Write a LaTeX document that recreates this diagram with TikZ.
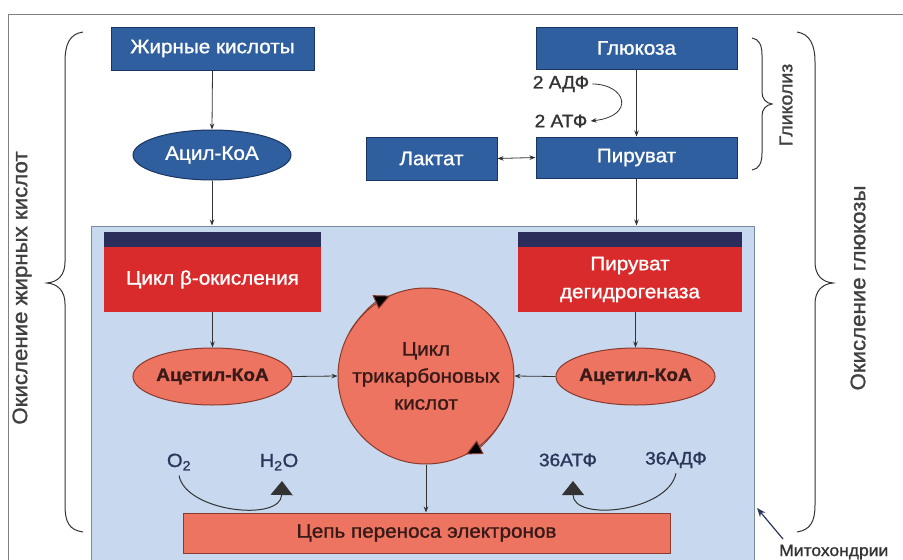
\documentclass[tikz,border=0pt]{standalone}
\usepackage{fontspec}
\setmainfont{Liberation Sans}[FakeStretch=1.06, RawFeature={embolden=1.2}]
\usetikzlibrary{shapes.geometric,arrows.meta}
\definecolor{boxblue}{HTML}{2F5F9E}
\definecolor{boxborder}{HTML}{1B3563}
\definecolor{mitoblue}{HTML}{C8D8EE}
\definecolor{mitoborder}{HTML}{7A8AA0}
\definecolor{redfill}{HTML}{D92B2B}
\definecolor{bandnavy}{HTML}{2A2D5A}
\definecolor{salmon}{HTML}{EC7461}
\definecolor{salborder}{HTML}{8B3A2E}
\definecolor{darktext}{HTML}{3A1A18}
\definecolor{navytext}{HTML}{2B3559}
\definecolor{linegray}{HTML}{333333}
\begin{document}
\begin{tikzpicture}[x=1pt,y=-1pt,
  bluebox/.style={draw=boxborder, line width=1pt, fill=boxblue, text=white, inner sep=0pt, font=\fontsize{19.5}{22}\selectfont},
  blueell/.style={ellipse, draw=boxborder, line width=1pt, fill=boxblue, text=white, inner sep=0pt, font=\fontsize{19.5}{22}\selectfont},
  redbox/.style={fill=redfill, text=white, inner sep=0pt, align=center, font=\fontsize{19.5}{28}\selectfont},
  bandbox/.style={fill=bandnavy, inner sep=0pt},
  salell/.style={ellipse, draw=salborder, line width=1pt, fill=salmon, text=darktext, inner sep=0pt, font=\bfseries\fontsize{18}{20}\selectfont},
  tcacirc/.style={circle, draw=salborder, line width=1pt, fill=salmon, text=darktext, inner sep=0pt, align=center, font=\fontsize{19.5}{27}\selectfont},
  etcbox/.style={draw=salborder, line width=1pt, fill=salmon, text=darktext, inner sep=0pt, font=\fontsize{19.5}{22}\selectfont},
  lbl/.style={inner sep=0pt, text=navytext, font=\fontsize{18}{20}\selectfont},
  sidelbl/.style={inner sep=0pt, text=black!75, rotate=90, font=\fontsize{21}{24}\selectfont},
  arr/.style={draw=linegray, line width=0.8pt, -{Stealth[length=6pt,width=4.5pt]}},
  darr/.style={draw=linegray, line width=0.8pt, {Stealth[length=6pt,width=4.5pt]}-{Stealth[length=6pt,width=4.5pt]}},
  bigtri/.style={draw=linegray, line width=1pt, -{Triangle[length=14pt,width=22pt]}},
  cyctri/.style={draw=salborder, line width=1pt, -{Triangle[length=16pt,width=15pt,fill=black]}},
  bracestyle/.style={draw=black!80, line width=1pt}
]
\useasboundingbox (0,0) rectangle (903,560);
\fill[white] (0,0) rectangle (903,560);
% frame
\draw[gray, line width=0.8pt] (8,575) -- (8,14) -- (910,14);

% mitochondrion
\node[draw=mitoborder, line width=1pt, fill=mitoblue, minimum width=663pt, minimum height=348pt, inner sep=0pt] (mito) at (422.5,400) {};

% top blue boxes
\node[bluebox, minimum width=203pt, minimum height=43pt] (fa) at (212.5,48.5) {Жирные кислоты};
\node[blueell, minimum width=158pt, minimum height=50pt] (acyl) at (212,155) {Ацил-КоА};
\node[bluebox, minimum width=201pt, minimum height=42pt] (glu) at (636.5,48) {Глюкоза};
\node[bluebox, minimum width=201pt, minimum height=41pt] (pyr) at (636.5,157.5) {Пируват};
\node[bluebox, minimum width=131pt, minimum height=43pt] (lac) at (431.5,158.5) {Лактат};

\node[lbl, text=black!80] (adf) at (561,84) {2 АДФ};
\node[lbl, text=black!80] (atf) at (561,121) {2 АТФ};

% red boxes with navy band
\node[bandbox, minimum width=217pt, minimum height=15pt] (betaband) at (212.5,239.5) {};
\node[redbox, minimum width=217pt, minimum height=65pt] (beta) at (212.5,279.5) {Цикл β-окисления};
\node[bandbox, minimum width=224pt, minimum height=15pt] (pdhband) at (630,239.5) {};
\node[redbox, minimum width=224pt, minimum height=65pt] (pdh) at (630,279.5) {Пируват\\дегидрогеназа};

% acetyl-CoA and TCA
\node[salell, minimum width=157pt, minimum height=57pt] (accl) at (212.5,376.5) {Ацетил-КоА};
\node[salell, minimum width=155pt, minimum height=57pt] (accr) at (635.5,376.5) {Ацетил-КоА};
\node[tcacirc, minimum size=176pt] (tca) at (426,376) {Цикл\\трикарбоновых\\кислот};

% electron transport chain
\node[etcbox, minimum width=487pt, minimum height=40pt] (etc) at (426.5,533) {Цепь переноса электронов};

% small labels
\node[lbl, font=\fontsize{19}{21}\selectfont] (o2) at (179,462) {O\textsubscript{2}};
\node[lbl, font=\fontsize{19}{21}\selectfont] (h2o) at (279,462) {H\textsubscript{2}O};
\node[lbl] (atp36) at (568,460) {36АТФ};
\node[lbl] (adp36) at (676,460) {36АДФ};

% connectors
\draw[arr] (fa.south) -- (acyl.north);
\draw[arr] (acyl.south) -- (acyl.south |- mito.north);
\draw[arr] (glu.south) -- (pyr.north);
\draw[arr] ([xshift=3pt]adf.east) .. controls (626,84) and (636,116) .. ([xshift=3pt]atf.east);
\draw[darr] (lac.east) -- (pyr.west);
\draw[arr] (pyr.south) -- (pyr.south |- mito.north);
\draw[arr] (beta.south) -- (accl.north);
\draw[arr] (pdh.south -| accr.north) -- (accr.north);
\draw[arr] (accl.east) -- (tca.west);
\draw[arr] (accr.west) -- (tca.east);
\draw[arr] (tca.south) -- (tca.south |- etc.north);

% cycle arrowheads on the circle
\draw[cyctri] (tca.center) ++(-150:88) arc[start angle=-150, end angle=-114, radius=88];
\draw[cyctri] (tca.center) ++(28:88) arc[start angle=28, end angle=63, radius=88];

% O2 -> H2O, 36ADP -> 36ATP
\draw[bigtri] ([yshift=-5pt]o2.south) .. controls (186,512) and (281,522) .. (282,481);
\draw[bigtri] ([yshift=-5pt]adp36.south) .. controls (668,512) and (573,522) .. (573,481);

% mitochondrion label
\coordinate (mitopt) at (757,508);
\node[inner sep=0pt, anchor=base west, text=black!80, font=\fontsize{16.5}{19}\selectfont] (mitolbl) at (779,556) {Митохондрии};
\draw[draw=navytext, line width=1.2pt, -{Stealth[length=9pt,width=7pt]}] (783,539) -- (mitopt);

% braces
\draw[bracestyle] (83,32) .. controls (69,34) and (65,45) .. (65,62) -- (65,262)
  .. controls (65,275) and (58,282) .. (47,283) .. controls (58,284) and (65,291) .. (65,304)
  -- (65,505) .. controls (65,522) and (69,530) .. (83,532);
\draw[bracestyle] (752,38) .. controls (759,39) and (762,45) .. (762,55) -- (762,92)
  .. controls (762,99) and (766,103) .. (772,104) .. controls (766,105) and (762,109) .. (762,116)
  -- (762,153) .. controls (762,163) and (759,169) .. (752,170);
\draw[bracestyle] (797,32) .. controls (810,34) and (815,45) .. (815,62) -- (815,262)
  .. controls (815,275) and (822,282) .. (833,283) .. controls (822,284) and (815,291) .. (815,304)
  -- (815,505) .. controls (815,522) and (810,530) .. (797,532);

\node[sidelbl] (fatlbl) at (22,288) {Окисление жирных кислот};
\node[sidelbl, font=\fontsize{18.5}{21}\selectfont] (glylbl) at (786,105) {Гликолиз};
\node[sidelbl] (glulbl) at (858,288) {Окисление глюкозы};
\end{tikzpicture}
\end{document}
